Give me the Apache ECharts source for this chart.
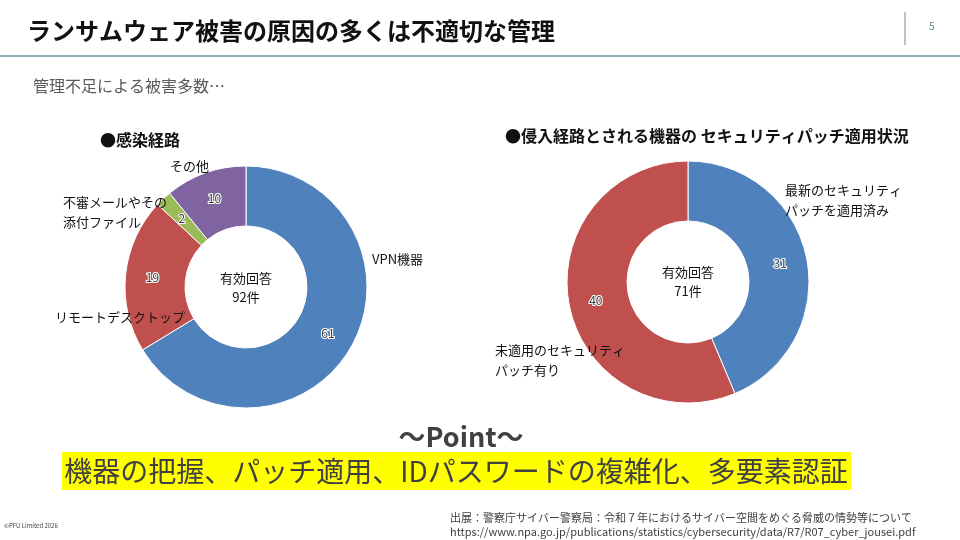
<!DOCTYPE html>
<html>
<head>
<meta charset="utf-8">
<script src="https://cdn.jsdelivr.net/npm/echarts@6/dist/echarts.min.js"></script>
<style>
  html, body { margin: 0; padding: 0; background: #fff; }
  #chart { width: 960px; height: 540px; }
</style>
</head>
<body>
<div id="chart"></div>
<script>
// 感染経路
const routeNames = ['VPN機器', 'リモートデスクトップ', '不審メールやその\n添付ファイル', 'その他'];
const routeValues = [61, 19, 2, 10];
const routeColors = ['#4F81BD', '#C0504D', '#9BBB59', '#8064A2'];

// セキュリティパッチ適用状況
const patchNames = ['最新のセキュリティ\nパッチを適用済み', '未適用のセキュリティ\nパッチ有り'];
const patchValues = [31, 40];
const patchColors = ['#4F81BD', '#C0504D'];

const FONT = '"Noto Sans CJK JP", "Noto Sans", sans-serif';
const TEXT = '#404040';

const chart = echarts.init(document.getElementById('chart'), null, { renderer: 'canvas' });

function total(arr) {
  return arr.reduce((s, v) => s + v, 0);
}

// where the category names sit (Excel put them by hand)
const routeLabelPos = [[372, 259], [55, 317], [63, 212], [170, 166]];
const patchLabelPos = [[785, 200], [495, 360]];

function valueSeries(names, values, colors, center) {
  return {
    type: 'pie',
    center: center,
    radius: [61, 121],
    startAngle: 90,
    clockwise: true,
    silent: true,
    data: names.map((n, i) => ({ name: n, value: values[i], itemStyle: { color: colors[i] } })),
    itemStyle: { borderColor: '#fff', borderWidth: 1 },
    label: {
      show: true,
      position: 'inside',
      formatter: '{c}',
      fontFamily: FONT,
      fontSize: 12,
      color: TEXT,
      textBorderColor: '#fff',
      textBorderWidth: 2
    },
    labelLine: { show: false }
  };
}

function nameSeries(names, values, center, pos) {
  return {
    type: 'pie',
    center: center,
    radius: [61, 121],
    startAngle: 90,
    clockwise: true,
    silent: true,
    data: names.map((n, i) => ({ name: n, value: values[i] })),
    itemStyle: { color: 'rgba(0,0,0,0)', borderWidth: 0 },
    label: {
      show: true,
      position: 'inside',
      formatter: '{b}',
      fontFamily: FONT,
      fontSize: 13,
      lineHeight: 20,
      color: '#111',
      overflow: 'none'
    },
    labelLine: { show: false },
    labelLayout: (params) => ({
      x: pos[params.dataIndex][0],
      y: pos[params.dataIndex][1],
      align: 'left',
      verticalAlign: 'middle'
    })
  };
}

const option = {
  animation: false,
  backgroundColor: '#fff',
  series: [
    valueSeries(routeNames, routeValues, routeColors, [246, 287]),
    nameSeries(routeNames, routeValues, [246, 287], routeLabelPos),
    valueSeries(patchNames, patchValues, patchColors, [688, 282]),
    nameSeries(patchNames, patchValues, [688, 282], patchLabelPos)
  ],
  graphic: [
    // header
    { type: 'text', left: 27, top: 19, style: { text: 'ランサムウェア被害の原因の多くは不適切な管理', font: 'bold 24px ' + FONT, fill: '#111' } },
    { type: 'line', shape: { x1: 905, y1: 12, x2: 905, y2: 45 }, style: { stroke: '#6a8f98', lineWidth: 1 } },
    { type: 'text', left: 929, top: 21, style: { text: '5', font: '10px ' + FONT, fill: '#5f8a95' } },
    { type: 'line', shape: { x1: 0, y1: 56, x2: 960, y2: 56 }, style: { stroke: '#6a8f98', lineWidth: 1.5 } },
    { type: 'text', left: 33, top: 78, style: { text: '管理不足による被害多数…', font: '16px ' + FONT, fill: '#595959' } },

    // chart titles
    { type: 'text', left: 100, top: 132, style: { text: '●感染経路', font: 'bold 16px ' + FONT, fill: '#111' } },
    { type: 'text', left: 505, top: 128, style: { text: '●侵入経路とされる機器の セキュリティパッチ適用状況', font: 'bold 16px ' + FONT, fill: '#111' } },

    // donut centres
    { type: 'text', x: 246, y: 288, style: { text: '有効回答\n' + total(routeValues) + '件', font: '13px ' + FONT, lineHeight: 19, fill: '#111', align: 'center', verticalAlign: 'middle' } },
    { type: 'text', x: 688, y: 282, style: { text: '有効回答\n' + total(patchValues) + '件', font: '13px ' + FONT, lineHeight: 19, fill: '#111', align: 'center', verticalAlign: 'middle' } },

    // point box
    { type: 'text', x: 461, y: 437, style: { text: '～Point～', font: 'bold 27px ' + FONT, fill: TEXT, align: 'center', verticalAlign: 'middle' } },
    { type: 'rect', shape: { x: 62, y: 452, width: 789, height: 38 }, style: { fill: '#FFFF00' } },
    { type: 'text', x: 456, y: 471, style: { text: '機器の把握、パッチ適用、IDパスワードの複雑化、多要素認証', font: '28px ' + FONT, fill: TEXT, align: 'center', verticalAlign: 'middle' } },

    // footer
    { type: 'text', left: 4, top: 523, style: { text: '©PFU Limited 2026', font: '6px ' + FONT, fill: TEXT } },
    { type: 'text', left: 450, top: 512, style: { text: '出展：警察庁サイバー警察局：令和７年におけるサイバー空間をめぐる脅威の情勢等について', font: '11px ' + FONT, fill: TEXT } },
    { type: 'text', left: 450, top: 526, style: { text: 'https://www.npa.go.jp/publications/statistics/cybersecurity/data/R7/R07_cyber_jousei.pdf', font: '11px ' + FONT, fill: TEXT } }
  ]
};

chart.setOption(option);
</script>
</body>
</html>
